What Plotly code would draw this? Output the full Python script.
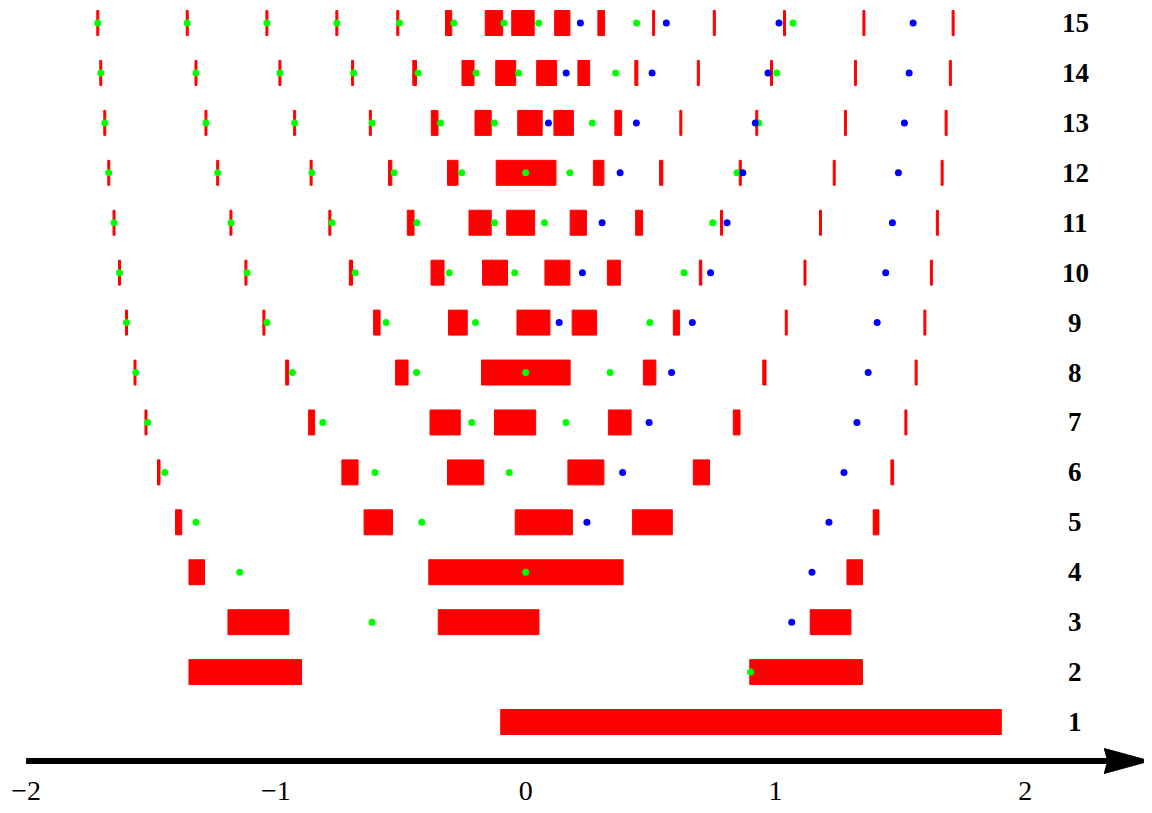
import plotly.graph_objects as go

# ---------------- data ----------------
rows = list(range(1, 16))
row_labels = [str(r) for r in rows]
tick_vals = [-2, -1, 0, 1, 2]
tick_text = ["\u22122", "\u22121", "0", "1", "2"]

# red intervals per row: (start, end); very narrow ones are the thin red strokes
red_01 = [(-0.100, 1.904)]
red_02 = [(-1.348, -0.897), (0.897, 1.348)]
red_03 = [(-1.192, -0.948), (-0.350, 0.053), (1.139, 1.302)]
red_04 = [(-1.348, -1.286), (-0.388, 0.390), (1.286, 1.348)]
red_05 = [(-1.402, -1.377), (-0.647, -0.533), (-0.042, 0.187), (0.427, 0.587), (1.391, 1.414)]
red_06 = [(-1.474, -1.464), (-0.736, -0.671), (-0.313, -0.168), (0.169, 0.313), (0.671, 0.736),
          (1.462, 1.473)]
red_07 = [(-1.524, -1.516), (-0.869, -0.845), (-0.383, -0.262), (-0.125, 0.040), (0.331, 0.422),
          (0.831, 0.858), (1.518, 1.526)]
red_08 = [(-1.568, -1.560), (-0.961, -0.949), (-0.521, -0.471), (-0.177, 0.178), (0.471, 0.521),
          (0.949, 0.962), (1.559, 1.567)]
red_09 = [(-1.602, -1.594), (-1.052, -1.044), (-0.609, -0.583), (-0.309, -0.234), (-0.035, 0.097),
          (0.186, 0.284), (0.591, 0.616), (1.039, 1.047), (1.594, 1.602)]
red_10 = [(-1.630, -1.622), (-1.124, -1.116), (-0.706, -0.693), (-0.379, -0.327), (-0.173, -0.073),
          (0.077, 0.177), (0.327, 0.379), (0.695, 0.705), (1.114, 1.122), (1.620, 1.628)]
red_11 = [(-1.652, -1.644), (-1.184, -1.176), (-0.788, -0.780), (-0.474, -0.447), (-0.227, -0.138),
          (-0.076, 0.036), (0.178, 0.243), (0.440, 0.468), (0.780, 0.788), (1.176, 1.184),
          (1.644, 1.652)]
red_12 = [(-1.673, -1.665), (-1.237, -1.229), (-0.863, -0.855), (-0.549, -0.536), (-0.313, -0.271),
          (-0.118, 0.121), (0.271, 0.313), (0.536, 0.549), (0.855, 0.863), (1.231, 1.239),
          (1.663, 1.671)]
red_13 = [(-1.689, -1.681), (-1.284, -1.276), (-0.929, -0.921), (-0.626, -0.618), (-0.378, -0.351),
          (-0.203, -0.138), (-0.032, 0.066), (0.113, 0.191), (0.357, 0.384), (0.617, 0.625),
          (0.921, 0.929), (1.276, 1.284), (1.679, 1.687)]
red_14 = [(-1.705, -1.697), (-1.324, -1.316), (-0.988, -0.980), (-0.697, -0.689), (-0.452, -0.437),
          (-0.255, -0.207), (-0.120, -0.040), (0.044, 0.124), (0.209, 0.256), (0.437, 0.449),
          (0.687, 0.695), (0.980, 0.988), (1.316, 1.324), (1.696, 1.704)]
red_15 = [(-1.717, -1.709), (-1.359, -1.351), (-1.040, -1.032), (-0.760, -0.752), (-0.516, -0.508),
          (-0.321, -0.296), (-0.162, -0.092), (-0.056, 0.034), (0.116, 0.177), (0.289, 0.316),
          (0.508, 0.516), (0.751, 0.759), (1.032, 1.040), (1.350, 1.358), (1.707, 1.715)]

green_01 = []
green_02 = [0.900]
green_03 = [-0.615]
green_04 = [-1.145, 0.000]
green_05 = [-1.320, -0.416]
green_06 = [-1.445, -0.603, -0.066]
green_07 = [-1.513, -0.812, -0.216, 0.161]
green_08 = [-1.561, -0.934, -0.437, 0.000, 0.338]
green_09 = [-1.598, -1.036, -0.559, -0.201, 0.497]
green_10 = [-1.626, -1.115, -0.683, -0.306, -0.044, 0.634]
green_11 = [-1.648, -1.180, -0.775, -0.436, -0.125, 0.075, 0.749]
green_12 = [-1.669, -1.233, -0.856, -0.527, -0.256, 0.000, 0.177, 0.846]
green_13 = [-1.685, -1.280, -0.925, -0.615, -0.341, -0.125, 0.267, 0.933]
green_14 = [-1.701, -1.320, -0.984, -0.689, -0.431, -0.199, -0.028, 0.360, 1.005]
green_15 = [-1.713, -1.355, -1.036, -0.756, -0.505, -0.288, -0.087, 0.052, 0.444, 1.070]

blue_01 = []
blue_02 = []
blue_03 = [1.065]
blue_04 = [1.146]
blue_05 = [0.245, 1.214]
blue_06 = [0.388, 1.274]
blue_07 = [0.494, 1.326]
blue_08 = [0.584, 1.371]
blue_09 = [0.134, 0.667, 1.407]
blue_10 = [0.227, 0.740, 1.441]
blue_11 = [0.306, 0.806, 1.468]
blue_12 = [0.378, 0.869, 1.492]
blue_13 = [0.091, 0.443, 0.919, 1.516]
blue_14 = [0.162, 0.506, 0.970, 1.535]
blue_15 = [0.219, 0.563, 1.014, 1.551]

red_by_row = [red_01, red_02, red_03, red_04, red_05, red_06, red_07, red_08,
              red_09, red_10, red_11, red_12, red_13, red_14, red_15]
green_by_row = [green_01, green_02, green_03, green_04, green_05, green_06, green_07, green_08,
                green_09, green_10, green_11, green_12, green_13, green_14, green_15]
blue_by_row = [blue_01, blue_02, blue_03, blue_04, blue_05, blue_06, blue_07, blue_08,
               blue_09, blue_10, blue_11, blue_12, blue_13, blue_14, blue_15]

# ---------------- build traces ----------------
bar_y, bar_base, bar_len = [], [], []
for r, ivs in zip(rows, red_by_row):
    for a, b in ivs:
        bar_y.append(r)
        bar_base.append(a)
        bar_len.append(b - a)

gx, gy, bx, by = [], [], [], []
for r, g, b in zip(rows, green_by_row, blue_by_row):
    gx += g
    gy += [r] * len(g)
    bx += b
    by += [r] * len(b)

fig = go.Figure()
fig.add_trace(go.Bar(
    y=bar_y, x=bar_len, base=bar_base, orientation="h", width=0.5,
    marker=dict(color="#ff0000", line=dict(color="#ff0000", width=1)),
    hoverinfo="skip", showlegend=False,
))
fig.add_trace(go.Scatter(
    x=gx, y=gy, mode="markers",
    marker=dict(color="#00ff00", size=7, line=dict(width=0)),
    showlegend=False, hoverinfo="skip",
))
fig.add_trace(go.Scatter(
    x=bx, y=by, mode="markers",
    marker=dict(color="#0000ff", size=7, line=dict(width=0)),
    showlegend=False, hoverinfo="skip",
))

# row labels on the right
for r, lab in zip(rows, row_labels):
    fig.add_annotation(x=2.2, y=r, text="<b>" + lab + "</b>", showarrow=False,
                       xanchor="center", yanchor="middle",
                       font=dict(family="Liberation Serif", size=27, color="black"))

# axis arrow
AY = 0.22
fig.add_shape(type="line", x0=-2.0, x1=2.34, y0=AY, y1=AY, xref="x", yref="y",
              line=dict(color="black", width=6), layer="above")
fig.add_shape(type="path",
              path=f"M 2.499 {AY} L 2.316 {AY + 0.25} L 2.330 {AY} L 2.316 {AY - 0.25} Z",
              xref="x", yref="y", fillcolor="black", line=dict(color="black", width=1), layer="above")

# the page body adds an 8px margin, so the figure covers 1144x805 of the window
fig.update_layout(
    width=1144, height=805,
    margin=dict(l=0, r=0, t=0, b=0),
    paper_bgcolor="white", plot_bgcolor="white",
    barmode="overlay",
    xaxis=dict(range=[-2.0725, 2.5072], showgrid=False, zeroline=False, showline=False,
               tickvals=tick_vals, ticktext=tick_text, ticks="outside", ticklen=4,
               tickcolor="rgba(0,0,0,0)",
               tickfont=dict(family="Liberation Serif", size=28, color="black"),
               anchor="free", position=52 / 805),
    yaxis=dict(range=[-0.822, 15.301], visible=False),
)

fig.write_html("out.html")
